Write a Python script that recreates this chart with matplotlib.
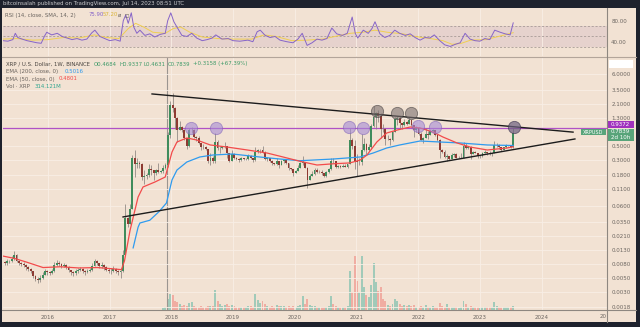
import numpy as np
import pandas as pd
import matplotlib
matplotlib.use("Agg")
import matplotlib.pyplot as plt
from matplotlib.patches import Rectangle
from matplotlib.ticker import NullLocator

W, H = 640, 327

# XRPUSD weekly chart, candles in 2-week steps
bar_start = pd.date_range("2015-04-13", periods=216, freq="14D")
first_open = 0.0085
closes = [
    0.0082, 0.0088, 0.0088, 0.0095, 0.0110, 0.0090, 0.0082, 0.0080, 0.0078, 0.0072,
    0.0068, 0.0062, 0.0052, 0.0048, 0.0046, 0.0050, 0.0055, 0.0062, 0.0060, 0.0058,
    0.0062, 0.0078, 0.0083, 0.0080, 0.0074, 0.0078, 0.0073, 0.0065, 0.0060, 0.0058,
    0.0062, 0.0066, 0.0068, 0.0063, 0.0060, 0.0063, 0.0066, 0.0075, 0.0088, 0.0082,
    0.0075, 0.0078, 0.0072, 0.0066, 0.0064, 0.0063, 0.0068, 0.0063, 0.0060, 0.0062,
    0.0110, 0.0400, 0.0330, 0.0550, 0.3200, 0.2600, 0.2700, 0.2650, 0.1700, 0.1750,
    0.1800, 0.2200, 0.2100, 0.1900, 0.2100, 0.2000, 0.2050, 0.2300, 0.2500, 0.7200,
    2.0500, 1.8500, 1.3000, 0.8500, 0.9500, 0.8600, 0.6600, 0.4900, 0.8500, 0.8700,
    0.6800, 0.6600, 0.5500, 0.4800, 0.4700, 0.4500, 0.2900, 0.3300, 0.2900, 0.5600,
    0.4600, 0.4600, 0.4900, 0.4900, 0.3800, 0.2900, 0.3700, 0.3300, 0.3100, 0.3000,
    0.3200, 0.3100, 0.3100, 0.3500, 0.3200, 0.3000, 0.4000, 0.4300, 0.4300, 0.4000,
    0.3100, 0.3200, 0.2900, 0.2700, 0.2600, 0.2900, 0.2500, 0.2900, 0.3000, 0.2700,
    0.2250, 0.2200, 0.1950, 0.2050, 0.2300, 0.2700, 0.2800, 0.2300, 0.1500, 0.1750,
    0.1850, 0.2150, 0.2000, 0.2000, 0.1900, 0.1750, 0.2000, 0.2200, 0.2950, 0.2900,
    0.2400, 0.2450, 0.2400, 0.2450, 0.2400, 0.2600, 0.6000, 0.5000, 0.2900, 0.2800,
    0.2800, 0.4300, 0.5200, 0.4300, 0.4800, 1.0000, 1.3500, 1.5500, 1.4000, 0.9000,
    0.8800, 0.6300, 0.6300, 0.6000, 0.8000, 1.2500, 1.3000, 1.1000, 1.0400, 1.1500,
    1.0800, 1.2300, 1.0200, 0.8500, 0.9400, 0.7400, 0.6100, 0.6600, 0.7600, 0.7300,
    0.8200, 0.8500, 0.7200, 0.6000, 0.4300, 0.4000, 0.3400, 0.3500, 0.3100, 0.3600,
    0.3700, 0.3300, 0.3300, 0.3300, 0.4900, 0.4600, 0.4700, 0.3700, 0.4000, 0.3900,
    0.3500, 0.3500, 0.3900, 0.4000, 0.3900, 0.3700, 0.3800, 0.5100, 0.5100, 0.4700,
    0.4300, 0.4700, 0.4900, 0.4900, 0.4684, 0.7839,
]
highs = [
    0.0090, 0.0095, 0.0092, 0.0105, 0.0125, 0.0112, 0.0092, 0.0087, 0.0085, 0.0080,
    0.0075, 0.0070, 0.0064, 0.0054, 0.0051, 0.0054, 0.0060, 0.0068, 0.0066, 0.0064,
    0.0068, 0.0085, 0.0092, 0.0088, 0.0082, 0.0084, 0.0080, 0.0074, 0.0066, 0.0063,
    0.0068, 0.0071, 0.0073, 0.0070, 0.0065, 0.0068, 0.0071, 0.0083, 0.0095, 0.0092,
    0.0084, 0.0085, 0.0080, 0.0074, 0.0069, 0.0070, 0.0074, 0.0070, 0.0066, 0.0070,
    0.0130, 0.0650, 0.0420, 0.0650, 0.3600, 0.4300, 0.3300, 0.2900, 0.2700, 0.2100,
    0.1950, 0.2600, 0.2500, 0.2150, 0.2200, 0.2700, 0.2150, 0.2500, 0.2700, 0.8000,
    2.4000, 3.1000, 1.9000, 1.3500, 1.2000, 1.0000, 0.8800, 0.6600, 0.9200, 0.9600,
    0.8800, 0.6900, 0.7000, 0.5500, 0.5200, 0.4900, 0.4500, 0.3800, 0.3500, 0.7800,
    0.6100, 0.4900, 0.5000, 0.5600, 0.5000, 0.3900, 0.4300, 0.3800, 0.3400, 0.3200,
    0.3400, 0.3200, 0.3200, 0.3700, 0.3600, 0.3200, 0.4700, 0.4500, 0.4500, 0.5000,
    0.4100, 0.3400, 0.3300, 0.3000, 0.2700, 0.3200, 0.2950, 0.3050, 0.3100, 0.3050,
    0.2700, 0.2300, 0.2200, 0.2150, 0.2500, 0.2800, 0.3450, 0.2850, 0.2350, 0.1850,
    0.2050, 0.2300, 0.2300, 0.2100, 0.2150, 0.1950, 0.2050, 0.2250, 0.3250, 0.3200,
    0.2950, 0.2550, 0.2500, 0.2600, 0.2600, 0.2650, 0.9100, 0.6600, 0.6100, 0.3700,
    0.3200, 0.7500, 0.6500, 0.5500, 0.5300, 1.0500, 1.9600, 1.6000, 1.7500, 1.5500,
    1.0500, 0.9200, 0.7200, 0.6600, 0.8300, 1.3700, 1.4100, 1.4000, 1.1000, 1.2500,
    1.1800, 1.3500, 1.2300, 1.0400, 1.0000, 0.9500, 0.8000, 0.6800, 0.9100, 0.8200,
    0.8400, 0.8800, 0.8600, 0.7300, 0.6400, 0.4400, 0.4300, 0.3700, 0.3500, 0.3900,
    0.3900, 0.3900, 0.3500, 0.3800, 0.5600, 0.5500, 0.4800, 0.4900, 0.4100, 0.4100,
    0.3900, 0.3600, 0.4000, 0.4300, 0.4000, 0.4100, 0.3900, 0.5800, 0.5500, 0.5300,
    0.4700, 0.4800, 0.5300, 0.5000, 0.5000, 0.9337,
]
lows = [
    0.0078, 0.0078, 0.0083, 0.0086, 0.0092, 0.0085, 0.0078, 0.0075, 0.0072, 0.0066,
    0.0062, 0.0058, 0.0049, 0.0044, 0.0042, 0.0043, 0.0048, 0.0054, 0.0055, 0.0054,
    0.0056, 0.0060, 0.0074, 0.0075, 0.0070, 0.0072, 0.0068, 0.0060, 0.0055, 0.0052,
    0.0055, 0.0058, 0.0062, 0.0058, 0.0054, 0.0058, 0.0060, 0.0064, 0.0074, 0.0077,
    0.0070, 0.0071, 0.0066, 0.0062, 0.0059, 0.0057, 0.0061, 0.0058, 0.0054, 0.0050,
    0.0060, 0.0110, 0.0290, 0.0320, 0.0550, 0.1700, 0.2300, 0.2300, 0.1500, 0.1300,
    0.1550, 0.1650, 0.1800, 0.1500, 0.1800, 0.1900, 0.1900, 0.1950, 0.2200, 0.2400,
    0.6500, 1.6000, 0.9000, 0.5700, 0.8500, 0.7900, 0.6000, 0.4500, 0.4800, 0.7800,
    0.6500, 0.5800, 0.5200, 0.4300, 0.4500, 0.4300, 0.2700, 0.2500, 0.2700, 0.2700,
    0.4300, 0.3800, 0.4400, 0.4600, 0.3300, 0.2800, 0.2900, 0.3100, 0.3000, 0.2800,
    0.2900, 0.3000, 0.3000, 0.3000, 0.3100, 0.2800, 0.2900, 0.3800, 0.3800, 0.3800,
    0.3000, 0.2950, 0.2850, 0.2500, 0.2500, 0.2500, 0.2300, 0.2500, 0.2700, 0.2650,
    0.2100, 0.2100, 0.1750, 0.1900, 0.2050, 0.2250, 0.2550, 0.2250, 0.1150, 0.1500,
    0.1750, 0.1800, 0.1900, 0.1900, 0.1800, 0.1700, 0.1700, 0.1900, 0.2150, 0.2700,
    0.2300, 0.2300, 0.2250, 0.2400, 0.2350, 0.2300, 0.2600, 0.4500, 0.2200, 0.1750,
    0.2500, 0.2500, 0.4100, 0.3700, 0.4100, 0.4400, 0.9600, 0.9000, 1.1500, 0.6500,
    0.8000, 0.5100, 0.6000, 0.5100, 0.5800, 0.8000, 1.0300, 0.9000, 0.8800, 0.9800,
    1.0100, 1.0600, 0.9900, 0.6700, 0.7900, 0.7200, 0.6000, 0.5500, 0.6500, 0.6200,
    0.7200, 0.8000, 0.6900, 0.5800, 0.3300, 0.3800, 0.3300, 0.2900, 0.3000, 0.3100,
    0.3400, 0.3200, 0.3200, 0.3200, 0.3300, 0.4400, 0.4400, 0.3100, 0.3700, 0.3800,
    0.3300, 0.3300, 0.3400, 0.3900, 0.3600, 0.3600, 0.3500, 0.3800, 0.4800, 0.4400,
    0.4100, 0.4300, 0.4600, 0.4700, 0.4600, 0.4631,
]
# volume in millions XRP (no exchange volume before late 2017)
volume = [0] * 67 + [
    150, 200, 900, 1250, 1200, 700, 650, 450, 350, 400, 350, 550, 600,
    350, 250, 250, 300, 200, 200, 300, 350, 300, 1600,
    700, 450, 300, 400, 500, 350, 400, 300, 250, 250,
    250, 250, 200, 350, 300, 250, 1250, 800, 550, 700,
    500, 300, 250, 300, 200, 400, 350, 300, 350, 250,
    300, 200, 300, 250, 350, 400, 1100, 500, 870, 400,
    300, 350, 250, 200, 250, 200, 250, 350, 1100, 500,
    350, 250, 250, 200, 250, 300, 3100, 1400, 4300, 2300,
    1400, 4300, 1800, 1200, 1000, 2000, 3700, 2200, 1500, 1800,
    900, 700, 400, 350, 450, 900, 700, 500, 350, 400,
    300, 400, 300, 400, 250, 250, 300, 250, 400, 250,
    250, 300, 200, 200, 550, 300, 250, 450, 200, 250,
    200, 200, 150, 250, 720, 450, 250, 350, 250, 200,
    200, 150, 250, 250, 200, 200, 250, 600, 350, 250,
    250, 200, 200, 250, 200, 314.121,
]

ema50_t = [2015.27, 2015.45, 2015.65, 2015.92, 2016.2, 2016.5, 2016.8, 2017.05, 2017.19,
           2017.24, 2017.33, 2017.46, 2017.54, 2017.73, 2017.90, 2017.94, 2018.01, 2018.09,
           2018.25, 2018.41, 2018.63, 2018.90, 2019.23, 2019.55, 2019.81, 2020.08, 2020.36,
           2020.62, 2020.89, 2021.06, 2021.17, 2021.33, 2021.49, 2021.66, 2021.87, 2022.03,
           2022.24, 2022.40, 2022.63, 2022.84, 2023.12, 2023.44, 2023.54]
ema50_v = [0.0106, 0.0098, 0.0086, 0.0071, 0.0073, 0.0070, 0.0071, 0.0068, 0.0066,
           0.0090, 0.026, 0.083, 0.118, 0.140, 0.167, 0.229, 0.40, 0.567,
           0.652, 0.608, 0.511, 0.476, 0.429, 0.386, 0.336, 0.29, 0.254,
           0.265, 0.273, 0.302, 0.360, 0.567, 0.776, 0.861, 0.957, 0.924,
           0.803, 0.675, 0.548, 0.476, 0.429, 0.460, 0.4801]
ema200_t = [2017.38, 2017.46, 2017.49, 2017.65, 2017.80, 2017.92, 2018.01, 2018.09, 2018.25,
            2018.46, 2018.67, 2018.99, 2019.43, 2019.76, 2020.08, 2020.62, 2021.06, 2021.27,
            2021.49, 2021.70, 2022.03, 2022.35, 2022.68, 2023.12, 2023.54]
ema200_v = [0.0141, 0.029, 0.0336, 0.037, 0.050, 0.0675, 0.151, 0.213, 0.282,
            0.336, 0.360, 0.373, 0.336, 0.313, 0.295, 0.313, 0.336, 0.386,
            0.460, 0.511, 0.587, 0.567, 0.548, 0.511, 0.5016]

rsi_t = [2015.27, 2015.35, 2015.43, 2015.47, 2015.51, 2015.58, 2015.66, 2015.74, 2015.82, 2015.89,
         2015.94, 2015.98, 2016.06, 2016.15, 2016.23, 2016.31, 2016.39, 2016.47, 2016.55, 2016.63,
         2016.71, 2016.76, 2016.84, 2016.92, 2017.00, 2017.09, 2017.17, 2017.22, 2017.26, 2017.30,
         2017.35, 2017.39, 2017.44, 2017.49, 2017.57, 2017.65, 2017.73, 2017.82, 2017.90, 2017.94,
         2017.99, 2018.04, 2018.09, 2018.17, 2018.25, 2018.33, 2018.41, 2018.50, 2018.58, 2018.66,
         2018.72, 2018.82, 2018.92, 2019.00, 2019.11, 2019.24, 2019.32, 2019.39, 2019.44, 2019.52,
         2019.60, 2019.68, 2019.76, 2019.87, 2019.97, 2020.05, 2020.12, 2020.20, 2020.28, 2020.36,
         2020.44, 2020.52, 2020.60, 2020.68, 2020.77, 2020.85, 2020.93, 2020.98, 2021.02, 2021.11,
         2021.19, 2021.25, 2021.30, 2021.38, 2021.46, 2021.54, 2021.62, 2021.70, 2021.79, 2021.87,
         2021.95, 2022.03, 2022.11, 2022.19, 2022.26, 2022.35, 2022.43, 2022.52, 2022.60, 2022.68,
         2022.76, 2022.84, 2022.92, 2023.00, 2023.08, 2023.16, 2023.24, 2023.33, 2023.41, 2023.49,
         2023.54]
rsi_v = [42, 41, 44, 56, 48, 45, 42, 40, 38, 37,
         50, 58, 53, 56, 50, 47, 44, 46, 43, 45,
         57, 62, 50, 46, 42, 44, 41, 80, 91, 75,
         95, 68, 56, 62, 52, 55, 49, 54, 56, 80,
         95, 78, 68, 52, 50, 56, 47, 42, 44, 47,
         53, 45, 46, 42, 41, 43, 40, 59, 62, 52,
         48, 50, 43, 40, 38, 45, 56, 33, 38, 45,
         43, 46, 66, 55, 52, 56, 87, 56, 47, 62,
         56, 65, 78, 55, 48, 52, 62, 56, 52, 55,
         48, 43, 48, 47, 53, 42, 34, 31, 35, 38,
         56, 45, 42, 41, 46, 44, 62, 58, 55, 53,
         75.9]
rsi_sma_t = [2015.27, 2015.5, 2015.75, 2016.0, 2016.25, 2016.5, 2016.75, 2016.95, 2017.15, 2017.3,
             2017.42, 2017.55, 2017.7, 2017.9, 2018.03, 2018.15, 2018.3, 2018.5, 2018.75, 2019.0,
             2019.3, 2019.5, 2019.7, 2019.95, 2020.2, 2020.45, 2020.65, 2020.9, 2021.1, 2021.3,
             2021.5, 2021.75, 2021.95, 2022.2, 2022.4, 2022.55, 2022.7, 2022.85, 2023.1, 2023.3,
             2023.54]
rsi_sma_v = [45, 46, 43, 44, 48, 47, 53, 48, 46, 65,
             75, 68, 58, 56, 65, 68, 58, 49, 46, 45,
             45, 53, 50, 42, 43, 45, 50, 56, 58, 62,
             58, 55, 50, 46, 42, 35, 37, 43, 44, 50,
             57.2]

# drawings on the chart
upper_t, upper_p = [2017.686, 2024.51], [3.03, 0.80]
lower_t, lower_p = [2017.216, 2024.54], [0.0415, 0.63]
level = 0.9372
touch_t = [2018.32, 2018.72, 2020.88, 2021.105, 2021.997, 2022.27]
touch_p = [0.93, 0.93, 0.95, 0.93, 0.99, 0.97]
top_t = [2021.33, 2021.656, 2021.88]
top_p = [1.67, 1.56, 1.56]
last_t, last_p = 2023.55, 0.96
cursor_t = 2017.935

years = list(range(2016, 2025))
price_ticks = [6.0, 3.5, 2.1, 1.3, 0.5, 0.3, 0.18, 0.11, 0.06, 0.035, 0.021,
               0.013, 0.008, 0.005, 0.003, 0.0018]

BG = "#f2e2d3"
GRID = "#f8eee6"
TXT = "#6b6560"
FRAME = "#1e222d"
AX_LINE = "#8e8780"
UP, DOWN = "#3f8c5c", "#8e3b33"

mid = bar_start + pd.Timedelta(days=7)
tx = np.asarray(mid.year) + (np.asarray(mid.dayofyear) - 1) / np.where(mid.is_leap_year, 366, 365)
c = np.array(closes)
o = np.r_[first_open, c[:-1]]
up = c >= o

fig = plt.figure(figsize=(6.4, 3.27), dpi=100, facecolor=FRAME)


def fx(x):
    return x / W


def fy(y):
    return 1 - y / H


fig.add_artist(Rectangle((fx(2), fy(322)), fx(634), 314 / H, transform=fig.transFigure,
                         facecolor=BG, edgecolor="none", zorder=-10))

XL = (2015.2707, 2025.06)

# ---- RSI pane ----
ar = fig.add_axes([fx(3), fy(56), fx(604), 47 / H])
ar.set_facecolor("none")
ar.set_xlim(*XL)
ar.set_ylim(12.8, 102.3)
ar.axhspan(30, 70, color="#e6d2cd", lw=0, zorder=0)
for lv in (70, 50, 30):
    ar.axhline(lv, color="#9a8f8c", lw=0.5, ls=(0, (3, 2.5)), zorder=1)
for yr in years:
    ar.axvline(yr, color=GRID, lw=0.6, zorder=0.5)
ar.plot(rsi_sma_t, rsi_sma_v, color="#f0cf50", lw=0.7, zorder=2)
ar.plot(rsi_t, rsi_v, color="#8664c8", lw=0.7, zorder=3)
ar.yaxis.tick_right()
ar.set_yticks([80, 40], ["80.00", "40.00"])
ar.set_xticks([])
ar.tick_params(axis="y", length=0, pad=3, labelsize=4, labelcolor=TXT)
for s in ar.spines.values():
    s.set_visible(False)

# ---- main pane ----
ax = fig.add_axes([fx(3), fy(310), fx(604), 252 / H])
ax.set_facecolor("none")

# volume underlay (drawn behind the price pane)
av = ax.twinx()
av.set_xlim(*XL)
av.set_ylim(0, 20000)
av.bar(tx, volume, width=0.032, color=np.where(up, "#52b3a0", "#f07a72"), alpha=0.5, lw=0)
av.axis("off")
av.set_zorder(-1)

ax.set_yscale("log")
ax.set_xlim(*XL)
ax.set_ylim(0.001615, 10.62)
ax.yaxis.set_minor_locator(NullLocator())
ax.yaxis.tick_right()
ax.set_yticks(price_ticks, [f"{p:.4f}" for p in price_ticks])
ax.set_xticks(years, [str(y) for y in years])
ax.tick_params(length=0, labelsize=4, labelcolor=TXT)
ax.tick_params(axis="y", pad=3)
ax.tick_params(axis="x", pad=3.5)
ax.grid(True, color=GRID, lw=0.6, zorder=0)
for s in ax.spines.values():
    s.set_visible(False)

ax.axvline(cursor_t, color="#9b9590", lw=0.8, zorder=1)
ax.axhline(level, color="#b052c6", lw=0.9, zorder=2)

ax.vlines(tx, lows, highs, color="#8a847f", lw=0.55, zorder=3)
ax.bar(tx, np.abs(c - o), bottom=np.minimum(o, c), width=0.03,
       color=np.where(up, UP, DOWN), lw=0, zorder=4)

ax.plot(ema200_t, ema200_v, color="#2f9bef", lw=0.9, zorder=5)
ax.plot(ema50_t, ema50_v, color="#f24b4b", lw=0.9, zorder=5)

ax.plot(upper_t, upper_p, color="#1c1c1c", lw=1.0, zorder=6)
ax.plot(lower_t, lower_p, color="#1c1c1c", lw=1.0, zorder=6)

ax.scatter(touch_t, touch_p, s=78, color="#a58ad6", alpha=0.6, edgecolor="#7f62b8", lw=0.6, zorder=7)
ax.scatter(top_t, top_p, s=78, color="#7b7070", alpha=0.6, edgecolor="#3e3a3a", lw=0.6, zorder=7)
ax.scatter([last_t], [last_p], s=78, color="#6d5f80", alpha=0.7, edgecolor="#3e3550", lw=0.6, zorder=7)

# ---- frame lines ----
fig.add_artist(plt.Line2D([fx(2), fx(636)], [fy(57), fy(57)], transform=fig.transFigure,
                          color="#b3a59a", lw=0.8))
fig.add_artist(plt.Line2D([fx(2), fx(636)], [fy(310), fy(310)], transform=fig.transFigure,
                          color=AX_LINE, lw=0.8))
fig.add_artist(plt.Line2D([fx(607), fx(607)], [fy(8), fy(322)], transform=fig.transFigure,
                          color=AX_LINE, lw=0.8))


def ftxt(x, y, s, **kw):
    kw.setdefault("fontsize", 4)
    kw.setdefault("va", "center")
    fig.text(fx(x), fy(y), s, **kw)


def box(x0, y0, x1, y1, color):
    fig.add_artist(Rectangle((fx(x0), fy(y1)), fx(x1 - x0), (y1 - y0) / H,
                             transform=fig.transFigure, facecolor=color, edgecolor="none"))


ftxt(603, 317, "20", color=TXT, ha="center")

# price labels on the scale
box(609, 60, 633, 68, "#ffffff")
box(607, 121, 634, 128, "#a032be")
ftxt(611, 124.5, "0.9372", color="white")
box(607, 128.5, 634, 141, "#58a47a")
ftxt(611, 131.5, "0.7839", color="white")
ftxt(611, 137.5, "2d 10h", color="white")
box(581, 129, 606, 135.5, "#58a47a")
ftxt(593.5, 132.3, "XRPUSD", color="white", ha="center", fontsize=3.6)

# header and legends
ftxt(3, 3, "bitcoinsalah published on TradingView.com, Jul 14, 2023 08:51 UTC", color="#c9c9cc", fontsize=3.9)
ftxt(5, 15, "RSI (14, close, SMA, 14, 2)", color=TXT, fontsize=3.9)
ftxt(89, 15, "75.90", color="#8664c8", fontsize=3.9)
ftxt(103, 15, "57.20", color="#d9b53a", fontsize=3.9)
ftxt(118, 15, "ø  ◻", color=TXT, fontsize=3.9)

ftxt(6, 64, "XRP / U.S. Dollar, 1W, BINANCE", color="#4a4540", fontsize=3.9)
gr = "#3e9a68"
ftxt(94, 64, "O0.4684", color=gr, fontsize=3.9)
ftxt(119, 64, "H0.9337", color=gr, fontsize=3.9)
ftxt(144, 64, "L0.4631", color=gr, fontsize=3.9)
ftxt(168, 64, "C0.7839", color=gr, fontsize=3.9)
ftxt(193, 64, "+0.3158 (+67.39%)", color=gr, fontsize=3.9)
ftxt(6, 71.5, "EMA (200, close, 0)", color=TXT, fontsize=3.9)
ftxt(65, 71.5, "0.5016", color="#2f9bef", fontsize=3.9)
ftxt(6, 79, "EMA (50, close, 0)", color=TXT, fontsize=3.9)
ftxt(59, 79, "0.4801", color="#f24b4b", fontsize=3.9)
ftxt(6, 86.5, "Vol · XRP", color=TXT, fontsize=3.9)
ftxt(35, 86.5, "314.121M", color="#2fa58f", fontsize=3.9)

fig.savefig("out.png", dpi=100, facecolor=FRAME)
